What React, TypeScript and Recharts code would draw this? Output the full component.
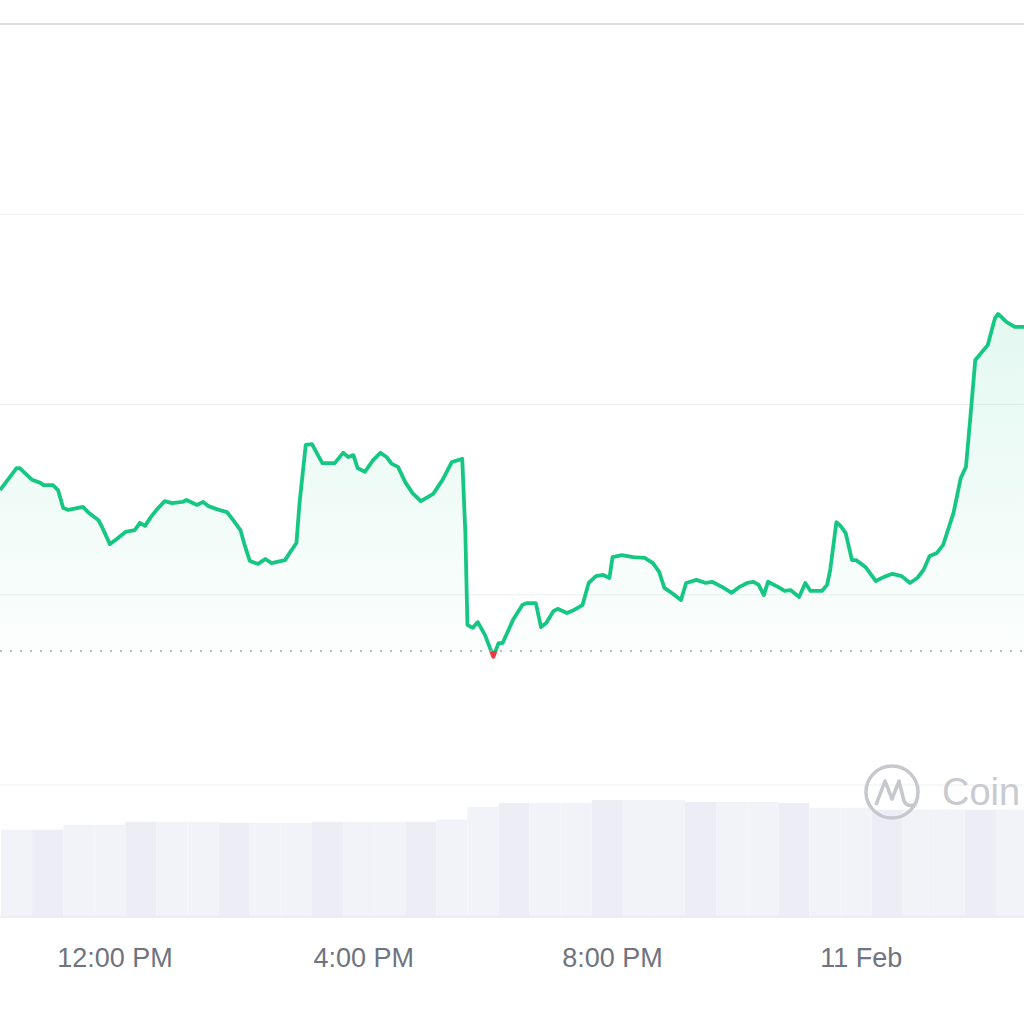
import {
  Area,
  Bar,
  BarChart,
  CartesianGrid,
  Cell,
  ComposedChart,
  ReferenceLine,
  XAxis,
  YAxis,
} from "recharts";

// minutes since midnight, 10 Feb
const TIMES = [
  609, 625, 628, 640, 648, 651, 660, 665, 670, 675,
  689, 694, 704, 708, 715, 722, 730, 739, 744, 749,
  754, 760, 768, 775, 785, 789, 799, 805, 810, 818,
  828, 834, 841, 845, 850, 858, 865, 871, 884, 889,
  895, 898, 904, 910, 920, 932, 940, 945, 950, 954,
  961, 969, 976, 982, 987, 993, 1000, 1007, 1015, 1027,
  1036, 1045, 1055, 1058, 1060, 1065, 1070, 1077, 1085, 1090,
  1094, 1104, 1113, 1117, 1126, 1131, 1136, 1143, 1147, 1156,
  1163, 1171, 1177, 1184, 1191, 1197, 1200, 1209, 1220, 1231,
  1239, 1245, 1250, 1256, 1266, 1271, 1281, 1290, 1296, 1306,
  1315, 1322, 1330, 1336, 1341, 1346, 1350, 1360, 1366, 1372,
  1380, 1386, 1391, 1402, 1407, 1410, 1416, 1420, 1425, 1431,
  1435, 1444, 1454, 1462, 1470, 1479, 1487, 1494, 1500, 1506,
  1513, 1519, 1529, 1536, 1541, 1545, 1550, 1562, 1569, 1572,
  1580, 1588, 1597,
];

const PRICES = [
  1.0775, 1.0833, 1.0833, 1.0802, 1.0794, 1.0788, 1.0788, 1.0775, 1.0728, 1.0723,
  1.0731, 1.0717, 1.0696, 1.0675, 1.0633, 1.0647, 1.0665, 1.067, 1.0689, 1.0681,
  1.0702, 1.0723, 1.0746, 1.0741, 1.0744, 1.0749, 1.0736, 1.0744, 1.0733, 1.0725,
  1.0717, 1.0696, 1.067, 1.0631, 1.0589, 1.0581, 1.0594, 1.0583, 1.0591, 1.0612,
  1.0636, 1.0741, 1.0894, 1.0896, 1.0846, 1.0846, 1.0873, 1.0862, 1.0867, 1.0833,
  1.0823, 1.0854, 1.0873, 1.0862, 1.0844, 1.0836, 1.0796, 1.0767, 1.0746, 1.0765,
  1.0802, 1.0849, 1.0857, 1.0662, 1.0421, 1.0413, 1.0428, 1.0394, 1.0337, 1.0373,
  1.0373, 1.0434, 1.0473, 1.0478, 1.0478, 1.0415, 1.0426, 1.0457, 1.0463, 1.0452,
  1.046, 1.0473, 1.0531, 1.0549, 1.0552, 1.0544, 1.0599, 1.0604, 1.0599, 1.0597,
  1.0583, 1.056, 1.0518, 1.0507, 1.0486, 1.0531, 1.0539, 1.0531, 1.0534, 1.052,
  1.0505, 1.052, 1.0531, 1.0534, 1.0526, 1.0499, 1.0534, 1.052, 1.051, 1.0512,
  1.0494, 1.0531, 1.051, 1.051, 1.0526, 1.0565, 1.0691, 1.0681, 1.0662, 1.0591,
  1.0591, 1.0573, 1.0536, 1.0547, 1.0555, 1.0549, 1.0531, 1.0544, 1.0565, 1.0602,
  1.061, 1.0631, 1.0715, 1.0807, 1.0836, 1.0959, 1.1117, 1.1156, 1.1227, 1.1238,
  1.1217, 1.1204, 1.1204,
];

const OPEN_PRICE = 1.0352;

// 30 min volume buckets (centre time)
const VOLUME_TIMES = [
  625, 655, 685, 715, 745, 775, 805, 835, 865, 895, 925,
  955, 985, 1015, 1045, 1075, 1105, 1135, 1165, 1195, 1225, 1255,
  1285, 1315, 1345, 1375, 1405, 1435, 1465, 1495, 1525, 1555, 1585,
];
const VOLUMES = [
  88, 88, 93, 93, 96, 96, 96, 95, 95, 95, 96,
  96, 96, 96, 98, 111, 115, 115, 115, 118, 118, 118,
  116, 116, 116, 115, 110, 110, 108, 108, 108, 108, 108,
];

const TICK_TIMES = [720, 960, 1200, 1440];
const TICK_LABELS = ["12:00 PM", "4:00 PM", "8:00 PM", "11 Feb"];
const PRICE_GRID = [1.0, 1.05, 1.1, 1.15, 1.2];

const GREEN = "#16c784";
const RED = "#ea3943";
const X_DOMAIN: [number, number] = [609, 1597];

const priceData = TIMES.map((t, i) => ({ t, price: PRICES[i] }));
const volumeData = VOLUME_TIMES.map((t, i) => ({ t, volume: VOLUMES[i] }));

const maxP = Math.max(...PRICES);
const minP = Math.min(...PRICES);
const splitOffset = (maxP - OPEN_PRICE) / (maxP - minP);

const layer: React.CSSProperties = { position: "absolute", left: 0, top: 0 };

function Watermark() {
  return (
    <div style={{ position: "absolute", left: 862, top: 762, display: "flex", alignItems: "center", pointerEvents: "none" }}>
      <svg width={60} height={60} viewBox="-30 -30 60 60">
        <circle cx={0} cy={0} r={26} fill="none" stroke="#c6c8cd" strokeWidth={3.5} />
        <path
          d="M -16 13 L -7 -11 L 0 7 L 7 -11 L 12 9 Q 15 16 24 12"
          fill="none"
          stroke="#c6c8cd"
          strokeWidth={3.5}
          strokeLinejoin="round"
        />
      </svg>
      <span
        style={{
          marginLeft: 20,
          fontFamily: "'Liberation Sans', Arial, sans-serif",
          fontSize: 38,
          color: "#c8cad0",
          whiteSpace: "nowrap",
        }}
      >
        Coin
      </span>
    </div>
  );
}

export default function App() {
  return (
    <div style={{ ...layer, width: 1024, height: 1024, overflow: "hidden", background: "#ffffff" }}>
      {/* volume underlay */}
      <div style={layer}>
        <BarChart
          width={1024}
          height={1024}
          data={volumeData}
          barCategoryGap={0}
          margin={{ top: 24, right: 0, bottom: 107, left: 0 }}
        >
          <XAxis dataKey="t" type="number" domain={X_DOMAIN} allowDataOverflow hide />
          <YAxis hide domain={[0, 900]} allowDataOverflow />
          <Bar dataKey="volume" isAnimationActive={false}>
            {volumeData.map((_, i) => (
              <Cell key={i} fill={i % 3 === 1 ? "#ededf6" : "#f2f2f9"} />
            ))}
          </Bar>
        </BarChart>
      </div>
      <div style={layer}>
        <ComposedChart width={1024} height={1024} data={priceData} margin={{ top: 24, right: 0, bottom: 0, left: 0 }}>
          <defs>
            <linearGradient id="lineSplit" x1="0" y1="0" x2="0" y2="1">
              <stop offset={splitOffset} stopColor={GREEN} />
              <stop offset={splitOffset} stopColor={RED} />
            </linearGradient>
            <linearGradient id="areaFill" x1="0" y1="0" x2="0" y2="1">
              <stop offset="0%" stopColor={GREEN} stopOpacity={0.2} />
              <stop offset="100%" stopColor={GREEN} stopOpacity={0.02} />
            </linearGradient>
          </defs>
          <CartesianGrid vertical={false} stroke="#eceef1" strokeWidth={1} />
          <XAxis
            dataKey="t"
            type="number"
            domain={X_DOMAIN}
            allowDataOverflow
            ticks={TICK_TIMES}
            interval={0}
            tickFormatter={(v: number) => TICK_LABELS[TICK_TIMES.indexOf(v)] ?? ""}
            axisLine={{ stroke: "#e6e7eb" }}
            tickLine={false}
            height={107}
            tickMargin={25}
            tick={{ fill: "#6f7480", fontSize: 27, fontFamily: "'Liberation Sans', Arial, sans-serif" }}
          />
          <YAxis hide domain={[0.965309, 1.2]} ticks={PRICE_GRID} allowDataOverflow />
          <ReferenceLine y={1.2} stroke="#d2d4d9" strokeWidth={1.5} />
          <Area
            type="linear"
            dataKey="price"
            baseValue={OPEN_PRICE}
            stroke="url(#lineSplit)"
            strokeWidth={3.8}
            strokeLinejoin="round"
            fill="url(#areaFill)"
            dot={false}
            activeDot={false}
            isAnimationActive={false}
          />
          <ReferenceLine y={OPEN_PRICE} stroke="#a3a8b0" strokeWidth={1.5} strokeDasharray="2 8" />
        </ComposedChart>
      </div>
      <Watermark />
    </div>
  );
}
